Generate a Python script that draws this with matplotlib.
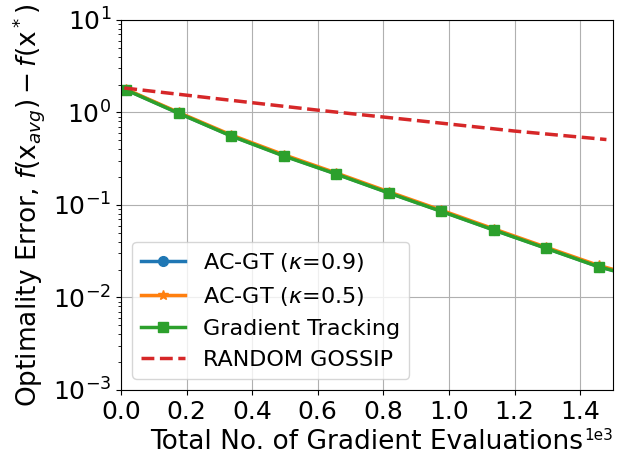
import numpy as np
import matplotlib
matplotlib.use('Agg')
import matplotlib.pyplot as plt
from matplotlib.ticker import MultipleLocator

# Data
evals = [16, 176, 336, 496, 656, 816, 976, 1136, 1296, 1456, 1520]
err_acgt_09 = [1.76, 0.985, 0.560, 0.342, 0.217, 0.136, 0.086, 0.054, 0.0342, 0.0216, 0.0188]
err_acgt_05 = [1.78, 1.00, 0.572, 0.350, 0.222, 0.139, 0.088, 0.0553, 0.0350, 0.0222, 0.0193]
err_gt = [1.75, 0.980, 0.557, 0.339, 0.216, 0.135, 0.0855, 0.0537, 0.0340, 0.0215, 0.0187]

evals_rg = [10, 300, 600, 900, 1200, 1480]
err_rg = [1.84, 1.40, 1.06, 0.82, 0.63, 0.51]

plt.rc('font', size=18)
plt.rc('axes', labelsize=19)
plt.rc('legend', fontsize=16)

fig = plt.figure(figsize=(6.26, 4.65), dpi=100)
ax = fig.add_axes([0.1933, 0.1613, 0.7859, 0.7957])

mk = list(range(10))
ax.semilogy(evals, err_acgt_09, '-o', color='tab:blue', lw=2.5, ms=7, markevery=mk, label=r'AC-GT ($\kappa$=0.9)')
ax.semilogy(evals, err_acgt_05, '-*', color='tab:orange', lw=2.5, ms=7, markevery=mk, label=r'AC-GT ($\kappa$=0.5)')
ax.semilogy(evals, err_gt, '-s', color='tab:green', lw=2.5, ms=7, markevery=mk, label='Gradient Tracking')
ax.semilogy(evals_rg, err_rg, '--', color='tab:red', lw=2.5, label='RANDOM GOSSIP')

ax.set_xlim(0, 1500)
ax.set_ylim(1e-3, 1e1)
ax.xaxis.set_major_locator(MultipleLocator(200))
ax.ticklabel_format(axis='x', style='sci', scilimits=(0, 0))
ax.xaxis.get_offset_text().set_fontsize(11)
ax.grid(True)
ax.set_xlabel('Total No. of Gradient Evaluations')
ax.set_ylabel(r'Optimality Error, $f(\mathrm{x}_{avg})-f(\mathrm{x}^*)$')
ax.legend(loc='lower left')

fig.savefig('out.png', dpi=100)
